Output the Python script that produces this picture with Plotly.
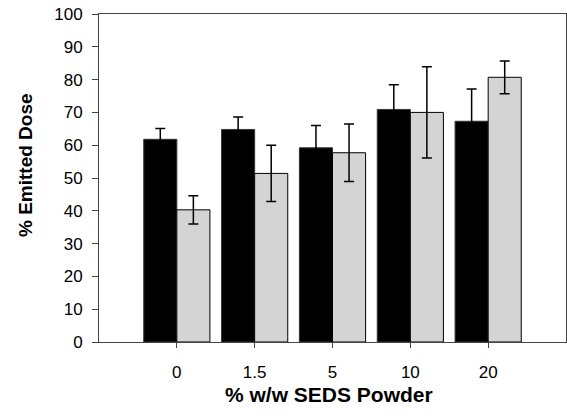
import plotly.graph_objects as go

categories = ["0", "1.5", "5", "10", "20"]
black_values = [61.8, 64.8, 59.2, 70.9, 67.3]
black_errors = [3.3, 3.8, 6.8, 7.5, 9.8]
grey_values = [40.3, 51.4, 57.7, 70.0, 80.7]
grey_errors = [4.3, 8.6, 8.8, 13.9, 5.0]
y_ticks = list(range(0, 101, 10))

L, R, T, B = 99, 1, 14, 76
W, H = 567, 418
pw = W - L - R
ph = H - T - B

fig = go.Figure()
fig.add_trace(go.Bar(
    x=categories, y=black_values,
    marker=dict(color="black", line=dict(color="#333333", width=1)),
    error_y=dict(type="data", array=black_errors, visible=True,
                 color="black", thickness=1.5, width=5),
))
fig.add_trace(go.Bar(
    x=categories, y=grey_values,
    marker=dict(color="#d4d4d4", line=dict(color="black", width=1)),
    error_y=dict(type="data", array=grey_errors, visible=True,
                 color="black", thickness=1.5, width=5),
))

axis_color = "#444444"
fig.update_layout(
    width=W, height=H,
    margin=dict(l=L, r=R, t=T, b=B, pad=0),
    paper_bgcolor="white", plot_bgcolor="white",
    barmode="group", bargap=0.15, bargroupgap=0,
    showlegend=False,
    font=dict(family="Liberation Sans, Arial, sans-serif", color="black"),
    xaxis=dict(
        type="category", range=[-1, 5],
        showline=True, mirror=True, linecolor=axis_color, linewidth=1,
        ticks="outside", ticklen=5, tickcolor=axis_color, tickwidth=1,
        tickfont=dict(size=17), showgrid=False, zeroline=False,
        ticklabelstandoff=10,
    ),
    yaxis=dict(
        range=[0, 100], tickvals=y_ticks,
        showline=True, mirror=True, linecolor=axis_color, linewidth=1,
        ticks="outside", ticklen=6, tickcolor=axis_color, tickwidth=1,
        tickfont=dict(size=17), showgrid=False, zeroline=False,
        ticklabelstandoff=6,
    ),
    annotations=[
        dict(text="<b>% Emitted Dose</b>", textangle=-90,
             xref="paper", yref="paper",
             x=(25 - L) / pw, y=(342 - 165) / ph,
             xanchor="center", yanchor="middle", showarrow=False,
             font=dict(size=19)),
        dict(text="<b>% w/w SEDS Powder</b>",
             xref="paper", yref="paper",
             x=(329 - L) / pw, y=(342 - 394) / ph,
             xanchor="center", yanchor="middle", showarrow=False,
             font=dict(size=21)),
    ],
)

fig.write_html("out.html")
